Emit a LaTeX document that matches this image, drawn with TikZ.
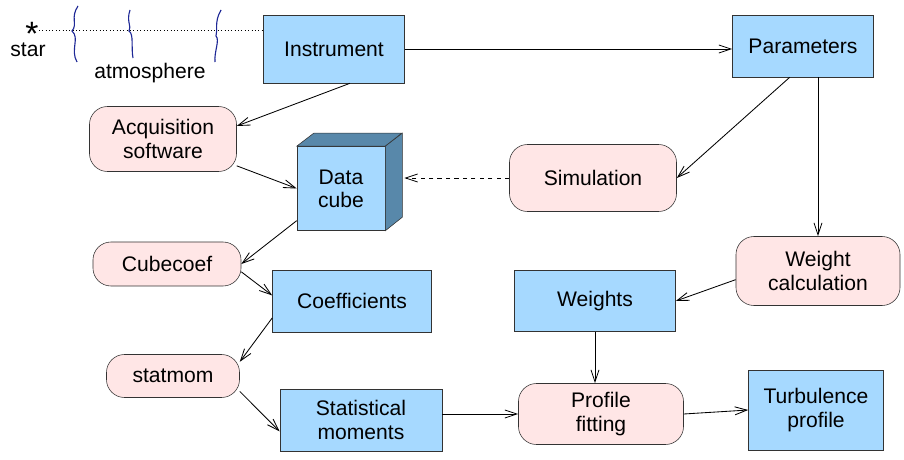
\documentclass[tikz,border=0pt]{standalone}
\usepackage{fontspec}
\setmainfont{Liberation Sans}
\usetikzlibrary{arrows.meta}

\definecolor{boxblue}{RGB}{166,217,255}
\definecolor{taskpink}{RGB}{255,230,230}
\definecolor{cubeside}{RGB}{88,136,170}
\definecolor{wave}{RGB}{30,40,150}

\tikzset{
  box/.style={draw=black!80,fill=boxblue,align=center,inner sep=0pt},
  task/.style={draw=black!80,fill=taskpink,rounded corners=0.45cm,align=center,inner sep=0pt},
  flow/.style={->,semithick,>={Straight Barb[length=3mm,width=2mm]}}
}

\begin{document}
\begin{tikzpicture}[x=0.025cm,y=-0.025cm,font=\fontsize{15}{16.5}\selectfont]
        \useasboundingbox (0,0) rectangle (904,460);

        % star and atmosphere
        \node [anchor=base,inner sep=0pt,font=\fontsize{24}{24}\selectfont] (star) at (32,45) {*};
        \coordinate (ray) at (39,30);
        \node at (28,50) {star};
        \node at (150,73) {atmosphere};
        \draw [wave,thick] (78,6) .. controls (70,18) and (78,24) .. (72,31) .. controls (80,38) and (70,50) .. (77,62);
        \draw [wave,thick] (130,10) .. controls (126,22) and (132,26) .. (129,31) .. controls (134,34) and (131,48) .. (133,58);
        \draw [wave,thick] (221,10) .. controls (214,22) and (218,30) .. (216,36) .. controls (220,40) and (214,52) .. (215,62);

        \node [box,minimum width=3.525cm,minimum height=1.7cm] (instr) at (334,49) {Instrument};
        \node [box,minimum width=3.525cm,minimum height=1.55cm] (param) at (803,46) {Parameters};
        \draw [dotted] (ray) -- (ray -| instr.west);

        \node [task,minimum width=3.675cm,minimum height=1.625cm] (acq) at (163,139) {Acquisition\\software};
        \node [task,minimum width=4.175cm,minimum height=1.675cm] (sim) at (593,178) {Simulation};

        % data cube
        \node [box,minimum width=2.2cm,minimum height=2.1cm] (cube) at (341,188.5) {Data\\cube};
        \draw [draw=black!80,fill=cubeside] (cube.north west) -- ++(17,-13) -- ++(88,0) -- (cube.north east) -- cycle;
        \draw [draw=black!80,fill=cubeside] (cube.north east) -- ++(17,-13) -- ++(0,84) -- (cube.south east) -- cycle;

        \node [task,minimum width=3.7cm,minimum height=1.1cm] (cubec) at (167,264) {Cubecoef};
        \node [box,minimum width=3.975cm,minimum height=1.55cm] (coef) at (352,301) {Coefficients};
        \node [box,minimum width=4.025cm,minimum height=1.525cm] (weights) at (595,301) {Weights};
        \node [task,minimum width=4.1cm,minimum height=1.725cm] (wcalc) at (818,271) {Weight\\calculation};
        \node [task,minimum width=3.325cm,minimum height=1.075cm] (statm) at (173,376) {statmom};
        \node [box,minimum width=4.05cm,minimum height=1.55cm] (stat) at (361,420) {Statistical\\moments};
        \node [task,minimum width=4.125cm,minimum height=1.525cm] (prof) at (601,414) {Profile\\fitting};
        \node [box,minimum width=3.375cm,minimum height=2cm] (turb) at (816,410) {Turbulence\\profile};

        \draw [flow] (instr.east) -- (instr.east -| param.west);
        \draw [flow] (instr.-65) -- (acq.10);
        \draw [flow] (acq.-20) -- (cube.west);
        \draw [flow] (cube.216) -- (cubec.east);
        \draw [flow,dashed] (sim.west) -- ([xshift=0.475cm]sim.west -| cube.east);
        \draw [flow] (param.-113) -- (sim.east);
        \draw [flow] (wcalc.north |- param.south) -- (wcalc.north);
        \draw [flow] (wcalc.186) -- (weights.east);
        \draw [flow] (weights.south) -- (weights.south |- prof.north);
        \draw [flow] (cubec.-6) -- (coef.176);
        \draw [flow] (coef.192) -- (statm.12);
        \draw [flow] (statm.-13) -- (stat.188);
        \draw [flow] (prof.west -| stat.east) -- (prof.west);
        \draw [flow] (prof.east) -- (turb.west);
      \end{tikzpicture}
\end{document}
